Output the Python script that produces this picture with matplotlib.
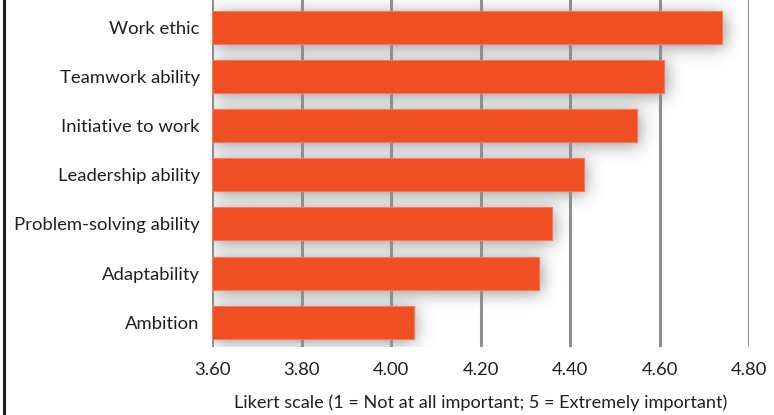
import numpy as np
import matplotlib
matplotlib.use("Agg")
import matplotlib.pyplot as plt
from matplotlib.lines import Line2D

categories = ["Work ethic", "Teamwork ability", "Initiative to work",
              "Leadership ability", "Problem-solving ability", "Adaptability", "Ambition"]
scores = [4.74, 4.61, 4.55, 4.43, 4.36, 4.33, 4.05]
x_ticks = [3.60, 3.80, 4.00, 4.20, 4.40, 4.60, 4.80]
x_label = "Likert scale (1 = Not at all important; 5 = Extremely important)"

plt.rcParams["font.family"] = ["Lato", "DejaVu Sans"]
text_color = "#231f20"
bar_color = "#f04f23"
grid_color = "#8e8f92"

fig = plt.figure(figsize=(7.74, 4.15), dpi=100)
ax = fig.add_axes([0.2743, 0.164, 0.6938, 0.836])

x0 = x_ticks[0]
ypos = list(range(len(categories)))[::-1]
bar_h = 0.67
xlim = (x_ticks[0], x_ticks[-1] + 0.0005)
ylim = (-0.5, len(categories) - 0.45)

# blurred drop shadow, rasterised on the axes pixel grid
bbox = ax.get_position()
W = int(round(bbox.width * fig.get_figwidth() * fig.dpi))
H = int(round(bbox.height * fig.get_figheight() * fig.dpi))
xs = xlim[0] + (np.arange(W) + 0.5) / W * (xlim[1] - xlim[0])
ys = ylim[1] - (np.arange(H) + 0.5) / H * (ylim[1] - ylim[0])
dx = 2.0 * (xlim[1] - xlim[0]) / W      # shadow offset: right
dy = 3.0 * (ylim[1] - ylim[0]) / H      # shadow offset: down
mask = np.zeros((H, W))
for y, v in zip(ypos, scores):
    inx = (xs >= x0 + dx) & (xs <= v + dx)
    iny = (ys >= y - bar_h / 2 - dy) & (ys <= y + bar_h / 2 - dy)
    mask[np.ix_(iny, inx)] = 1.0

sigma = 8.5
r = np.arange(-32, 33)
kern = np.exp(-0.5 * (r / sigma) ** 2)
kern /= kern.sum()
pad = 40
big = np.pad(mask, pad)
big = np.apply_along_axis(lambda row: np.convolve(row, kern, mode="same"), 1, big)
big = np.apply_along_axis(lambda col: np.convolve(col, kern, mode="same"), 0, big)
blur = big[pad:-pad, pad:-pad]
rgba = np.zeros((H, W, 4))
rgba[..., :3] = np.array([110, 112, 116]) / 255.0
rgba[..., 3] = np.clip(0.75 * blur, 0, 1)
ax.imshow(rgba, extent=(xlim[0], xlim[1], ylim[0], ylim[1]), aspect="auto",
          interpolation="bilinear", zorder=1)

for x in x_ticks:
    ax.axvline(x, color=grid_color, lw=2.2, zorder=2)

ax.barh(ypos, [v - x0 for v in scores], left=x0, height=bar_h,
        color=bar_color, edgecolor="#f5795a", linewidth=0.8, zorder=3)

ax.set_xlim(*xlim)
ax.set_ylim(*ylim)
ax.set_yticks(ypos)
ax.set_yticklabels(categories)
ax.set_xticks(x_ticks)
ax.set_xticklabels([f"{t:.2f}" for t in x_ticks])
ax.tick_params(axis="both", length=0, labelsize=13.3, colors=text_color)
ax.tick_params(axis="y", pad=9)
ax.tick_params(axis="x", pad=11)
for s in ax.spines.values():
    s.set_visible(False)
ax.set_xlabel(x_label, fontsize=13.1, color=text_color, labelpad=12)

fig.add_artist(Line2D([0.0055, 0.0055], [0, 1], color="#231f20", lw=2.2,
                      transform=fig.transFigure))

fig.savefig("out.png", dpi=100)
